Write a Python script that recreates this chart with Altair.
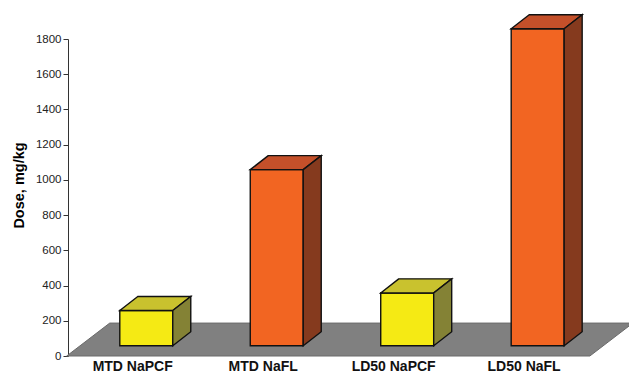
import altair as alt
import pandas as pd

# Values
categories = ["MTD NaPCF", "MTD NaFL", "LD50 NaPCF", "LD50 NaFL"]
doses = [200, 1000, 300, 1800]
front_colors = ["#F5EA14", "#F26522", "#F5EA14", "#F26522"]
top_colors = ["#C9C22E", "#C4502A", "#C9C22E", "#C4502A"]
side_colors = ["#848235", "#853A1E", "#848235", "#853A1E"]
y_ticks = [0, 200, 400, 600, 800, 1000, 1200, 1400, 1600, 1800]

# 3-D layout: x in slot units (one slot per category), y in dose units
HALF = 0.203          # half width of a column's front face
DX, DY = 0.138, 80    # depth of a column (right / up)
BASE = 58             # columns stand this far back on the floor
LABEL_SHIFT = 0.104   # labels sit on the floor's front edge
FLOOR_X0, FLOOR_X1 = -0.61, 3.40
FLOOR_DX, FLOOR_DY = 0.33, 187

FONT = "Liberation Sans"

xscale = alt.Scale(domain=[-0.6, 3.7], nice=False, zero=False)
yscale = alt.Scale(domain=[0, 1800], nice=False, zero=False)
yaxis = alt.Axis(
    values=y_ticks, format="d", grid=False, labelFont=FONT, labelFontSize=11.5,
    labelColor="#222222", labelPadding=2, tickSize=5, tickColor="#333333",
    domainColor="#333333", title="Dose, mg/kg", titleFont=FONT,
    titleFontSize=14.5, titleFontWeight="bold", titleColor="#000000",
    titleAngle=270, titleX=-49, titleY=146, titleAlign="center",
    titleBaseline="middle",
)

# Floor plane
floor = pd.DataFrame({
    "y": [0, FLOOR_DY],
    "x": [FLOOR_X0, FLOOR_X0 + FLOOR_DX],
    "x2": [FLOOR_X1, FLOOR_X1 + FLOOR_DX],
})

front_rows, top_rows, side_rows, label_rows = [], [], [], []
for i, (cat, v) in enumerate(zip(categories, doses)):
    left, right = i - HALF, i + HALF
    bottom, top = BASE, BASE + v
    front_rows.append({"cat": cat, "x": left, "x2": right, "y": bottom,
                       "y2": top, "c": front_colors[i]})
    top_rows += [
        {"cat": cat, "y": top, "x": left, "x2": right, "c": top_colors[i]},
        {"cat": cat, "y": top + DY, "x": left + DX, "x2": right + DX,
         "c": top_colors[i]},
    ]
    side_rows += [
        {"cat": cat, "x": right, "y": bottom, "y2": top, "c": side_colors[i]},
        {"cat": cat, "x": right + DX, "y": bottom + DY, "y2": top + DY,
         "c": side_colors[i]},
    ]
    label_rows.append({"cat": cat, "x": i - LABEL_SHIFT})

front = pd.DataFrame(front_rows)
tops = pd.DataFrame(top_rows)
sides = pd.DataFrame(side_rows)
labels = pd.DataFrame(label_rows)

floor_layer = alt.Chart(floor).mark_area(
    orient="horizontal", color="#808080", stroke="#6a6a6a", strokeWidth=1
).encode(
    y=alt.Y("y:Q", scale=yscale, axis=yaxis),
    x=alt.X("x:Q", scale=xscale, axis=None),
    x2="x2:Q",
)

front_layer = alt.Chart(front).mark_rect(stroke="#111111", strokeWidth=1.4).encode(
    x=alt.X("x:Q", scale=xscale, axis=None),
    x2="x2:Q",
    y=alt.Y("y:Q", scale=yscale, axis=yaxis),
    y2="y2:Q",
    fill=alt.Fill("c:N", scale=None),
)

top_layer = alt.Chart(tops).mark_area(
    orient="horizontal", stroke="#111111", strokeWidth=1.4
).encode(
    y=alt.Y("y:Q", scale=yscale, axis=yaxis),
    x=alt.X("x:Q", scale=xscale, axis=None),
    x2="x2:Q",
    fill=alt.Fill("c:N", scale=None),
    detail="cat:N",
)

side_layer = alt.Chart(sides).mark_area(
    stroke="#111111", strokeWidth=1.4
).encode(
    x=alt.X("x:Q", scale=xscale, axis=None),
    y=alt.Y("y:Q", scale=yscale, axis=yaxis),
    y2="y2:Q",
    fill=alt.Fill("c:N", scale=None),
    detail="cat:N",
)

label_layer = alt.Chart(labels).mark_text(
    font=FONT, fontSize=14, fontWeight="bold", color="#111111",
    baseline="middle", align="center"
).encode(
    x=alt.X("x:Q", scale=xscale, axis=None),
    y=alt.value(328),
    text="cat:N",
)

chart = alt.layer(
    floor_layer, front_layer, top_layer, side_layer, label_layer
).properties(
    width=561, height=317, autosize="none",
    padding={"left": 68, "top": 39, "right": 0, "bottom": 17},
).configure_view(stroke=None)

chart.save("out.html", embed_options={"renderer": "svg", "actions": False})
